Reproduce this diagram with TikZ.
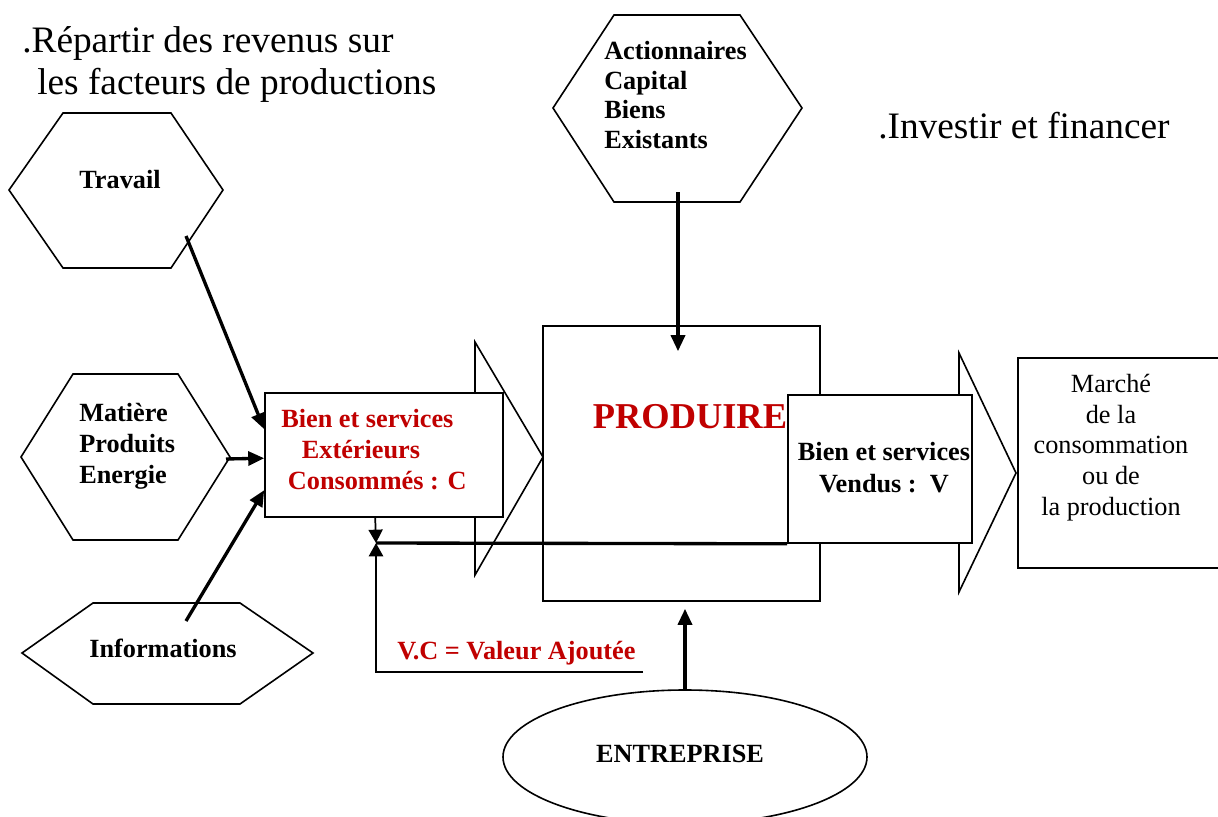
\documentclass[tikz,border=0pt]{standalone}
\usepackage{fontspec}
\setmainfont{Liberation Serif}
\usetikzlibrary{arrows.meta,shapes.geometric,calc}
\definecolor{labelred}{RGB}{192,0,0}

\begin{document}
\begin{tikzpicture}[x=0.75pt,y=-0.75pt,
  outline/.style={draw=black, line width=1.2pt, fill=white, line join=miter},
  boxst/.style={outline, rectangle, inner sep=0pt},
  flow/.style={draw=black, line width=2.5pt, -{Triangle[length=12pt,width=10.5pt]}},
  boldtxt/.style={font=\bfseries\fontsize{19.7}{22.9}\selectfont, inner sep=0pt},
  redtxt/.style={boldtxt, text=labelred},
  plaintxt/.style={font=\fontsize{19.7}{22.9}\selectfont, inner sep=0pt},
  bigtxt/.style={font=\fontsize{28}{31.5}\selectfont, inner sep=0pt}
]
\useasboundingbox (0,0) rectangle (1218,817);

% headings (multi-line nodes are placed by the baseline of their last line)
\node[bigtxt, align=left, anchor=base west] (revenus) at (22,94)
  {.Répartir des revenus sur\\\hspace*{11.25pt}les facteurs de productions};
\node[bigtxt, anchor=base west] (investir) at (878,138) {.Investir et financer};

% production factors
\draw[outline] (9,190) -- (63,113) -- (171,113) -- (223,190) -- (171,268) -- (63,268) -- cycle;
\node[boldtxt, anchor=base] (travail) at (120,188) {Travail};

\draw[outline] (21,457) -- (73,374) -- (178,374) -- (230,457) -- (178,540) -- (73,540) -- cycle;
\node[boldtxt, align=left, anchor=base west] (matiere) at (79,483) {Matière\\Produits\\Energie};

\draw[outline] (22,653) -- (93,603) -- (240,603) -- (313,653) -- (240,704) -- (93,704) -- cycle;
\node[boldtxt, anchor=base] (info) at (163,657) {Informations};

\draw[outline] (553,108) -- (614,15) -- (740,15) -- (802,108) -- (740,202) -- (614,202) -- cycle;
\node[boldtxt, align=left, anchor=base west, font=\bfseries\fontsize{19.7}{22.1}\selectfont] (capital) at (604,148)
  {Actionnaires\\Capital\\Biens\\Existants};

% consumed goods
\draw[outline] (475,342) -- (543,457) -- (475,575) -- cycle;
\node[boxst, minimum width=178.5pt, minimum height=93pt] (box1) at (384,455) {};
\node[redtxt, align=left, anchor=base west] (box1txt) at (281,489)
  {Bien et services\\\hspace*{15.5pt}Extérieurs\\\hspace*{5pt}Consommés : C};

% production
\node[boxst, minimum width=207.75pt, minimum height=206.25pt] (produire) at (681.5,463.5) {};
\node[font=\bfseries\fontsize{27.3}{30}\selectfont, text=labelred, inner sep=0pt, anchor=base] (produiretxt) at (690,428) {PRODUIRE};

% sold goods
\draw[outline] (959,353) -- (1016,473) -- (959,592) -- cycle;
\node[boxst, minimum width=138pt, minimum height=111pt] (box2) at (880,469) {};
\node[boldtxt, align=center, anchor=base, font=\bfseries\fontsize{19.7}{24}\selectfont] (box2txt) at (884,492)
  {Bien et services\\Vendus :~~V};

% market
\node[boxst, minimum width=152.25pt, minimum height=157.5pt] (marche) at (1119.5,463) {};
\node[plaintxt, align=center, anchor=base] (marchetxt) at (1111,515)
  {Marché\\de la\\consommation\\ou de\\la production};

% company
\node[outline, ellipse, minimum width=273pt, minimum height=100.5pt, inner sep=0pt] (ent) at (685,757) {};
\node[boldtxt, anchor=base] (enttxt) at (680,762) {ENTREPRISE};

% inputs
\coordinate (travailout) at (186,236);
\coordinate (matiereout) at (226,459);
\coordinate (infoout) at (186,621);
\coordinate (capitalout) at (678,192);
\draw[flow] (travailout) -- ($(box1.north west)+(0,37)$);
\draw[flow] (matiereout) -- ($(box1.north west)+(0,66)$);
\draw[flow] (infoout) -- ($(box1.north west)+(0,98)$);
\draw[flow] (capitalout) -- ($(produire.north)+(-3.5,26)$);
\draw[flow] (ent.north) -- ($(produire.south)+(3.5,7)$);

% added value loop
\coordinate (vcjoin) at (376,543);
\coordinate (vcend) at (643,672);
\draw[line width=2.5pt] (box2.south west) -- (vcjoin);
\draw[line width=1.3pt, -{Triangle[length=10pt,width=10.5pt]}] ($(box1.south west)+(111,0)$) -- (vcjoin);
\draw[line width=2pt, -{Triangle[length=10pt,width=10.5pt]}] (vcend) -| (vcjoin);
\node[redtxt, anchor=base west] (vc) at (397,659) {V.C = Valeur Ajoutée};

\end{tikzpicture}
\end{document}
